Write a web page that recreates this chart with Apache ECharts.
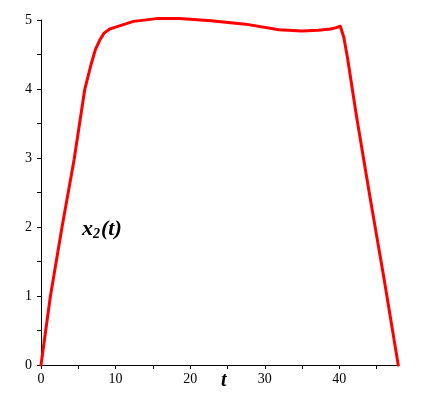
<!DOCTYPE html>
<html>
<head>
<meta charset="utf-8">
<script src="https://cdn.jsdelivr.net/npm/echarts@6/dist/echarts.min.js"></script>
<style>
  html, body { margin: 0; padding: 0; background: #fff; }
  #chart { width: 424px; height: 403px; }
</style>
</head>
<body>
<div id="chart"></div>
<script>
  // curve
  var tValues = [0, 1.25, 2.82, 4.43, 5.86, 6.75, 7.29, 7.88, 8.46, 9.22, 10.1,
    12.4, 15.5, 18.6, 22.8, 27.4, 31.9, 35.0, 37.2, 38.8, 39.6, 40.13, 40.6, 41.1,
    42.28, 44.07, 45.95, 47.9]
  var x2Values = [0, 0.99, 2.0, 2.97, 3.99, 4.37, 4.57, 4.71, 4.81, 4.87, 4.90,
    4.98, 5.02, 5.02, 4.99, 4.94, 4.86, 4.84, 4.85, 4.87, 4.89, 4.91, 4.75, 4.45,
    3.62, 2.46, 1.28, 0]

  var xTickLabels = [0, 10, 20, 30, 40]
  var xTicks = [0, 5, 10, 15, 20, 25, 30, 35, 40, 45]
  var yTickLabels = [0, 1, 2, 3, 4, 5]
  var yTicks = [0, 0.5, 1, 1.5, 2, 2.5, 3, 3.5, 4, 4.5, 5]

  var points = tValues.map(function (t, i) { return [t, x2Values[i]] })

  var chart = echarts.init(document.getElementById('chart'), null, { renderer: 'canvas' })
  var labelFont = { color: '#000', fontFamily: 'Liberation Serif', fontSize: 14 }

  chart.setOption({
    animation: false,
    backgroundColor: '#fff',
    grid: { left: 41, top: 20, right: 25, bottom: 38, containLabel: false },
    xAxis: {
      type: 'value',
      min: 0,
      max: 48,
      interval: 5,
      axisLine: { onZero: false, lineStyle: { color: '#000', width: 1 } },
      axisTick: { show: true, length: 4, customValues: xTicks, lineStyle: { color: '#000' } },
      axisLabel: Object.assign({ margin: 7, customValues: xTickLabels }, labelFont),
      splitLine: { show: false }
    },
    yAxis: {
      type: 'value',
      min: 0,
      max: 5,
      interval: 0.5,
      axisLine: { show: true, onZero: false, lineStyle: { color: '#000', width: 1 } },
      axisTick: { show: true, length: 4, customValues: yTicks, lineStyle: { color: '#000' } },
      axisLabel: Object.assign({ margin: 9, customValues: yTickLabels }, labelFont),
      splitLine: { show: false }
    },
    graphic: [
      {
        type: 'text',
        left: 82,
        top: 218,
        style: {
          text: '{x|x}{s|2}{x|(t)}',
          rich: {
            x: { font: 'italic bold 22px "Liberation Serif"', fill: '#000' },
            s: { font: 'italic bold 14px "Liberation Serif"', fill: '#000', padding: [10, 1, 0, 0] }
          }
        }
      },
      {
        type: 'text',
        left: 221,
        top: 371,
        style: { text: 't', font: 'italic bold 20px "Liberation Serif"', fill: '#000' }
      }
    ],
    series: [{
      type: 'line',
      data: points,
      showSymbol: false,
      smooth: false,
      clip: false,
      lineStyle: { color: '#ff0000', width: 3, join: 'round', cap: 'round' }
    }]
  })
</script>
</body>
</html>
